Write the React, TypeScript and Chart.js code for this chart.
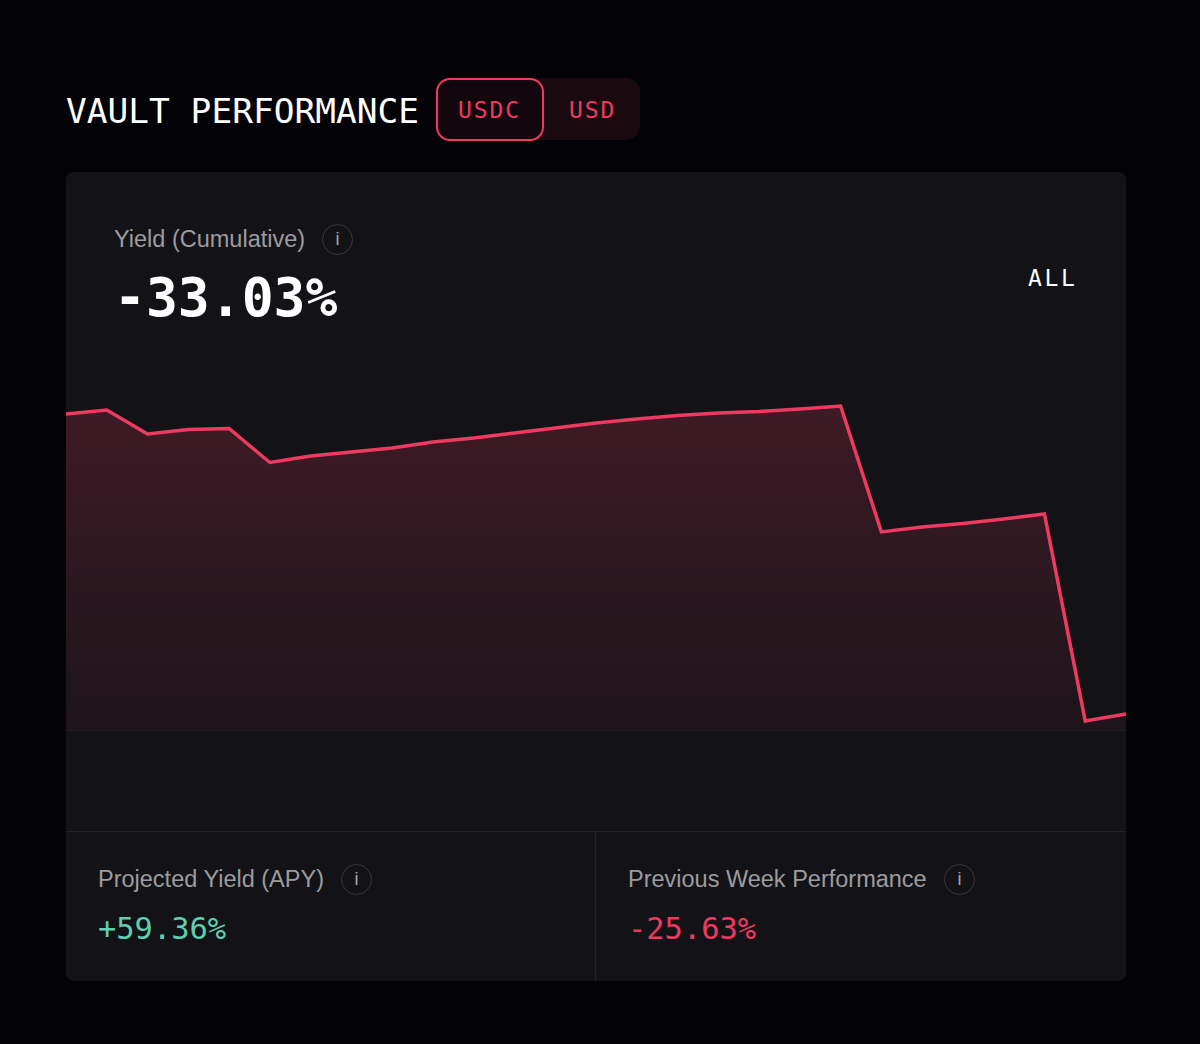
import React, { useEffect, useRef } from "react";
import { Chart, registerables } from "chart.js";

Chart.register(...registerables);

const labels = ["1","2","3","4","5","6","7","8","9","10","11","12","13","14","15","16","17","18","19","20","21","22","23","24","25","26","27"];
const yieldValues = [5.37,5.88,2.81,3.39,3.51,-0.84,-0.01,0.51,1.02,1.79,2.30,2.94,3.58,4.22,4.73,5.18,5.50,5.69,6.01,6.39,-9.73,-9.09,-8.65,-8.07,-7.43,-33.93,-33.03];
const baselineValue = -35.08;
const axisMin = -47.88;
const axisMax = 14.84;

const PINK = "#ee3a60";
const MONO = '"DejaVu Sans Mono", monospace';
const SANS = '"Liberation Sans", Arial, sans-serif';

const abs = (s: React.CSSProperties): React.CSSProperties => ({ position: "absolute", whiteSpace: "nowrap", lineHeight: 1, ...s });

function Info({ x, y }: { x: number; y: number }) {
  return (
    <div style={abs({ left: x - 15, top: y - 15, width: 29, height: 29, border: "1.5px solid #38383c", borderRadius: "50%", color: "#a8a8aa", fontFamily: SANS, fontSize: 18, textAlign: "center", lineHeight: "28px" })}>i</div>
  );
}

export default function App() {
  const ref = useRef<HTMLCanvasElement | null>(null);
  useEffect(() => {
    const chart = new Chart(ref.current!, {
      type: "line",
      data: {
        labels,
        datasets: [{
          data: yieldValues,
          borderColor: PINK,
          borderWidth: 3.5,
          pointRadius: 0,
          tension: 0,
          borderJoinStyle: "miter",
          fill: { value: baselineValue },
          backgroundColor: (c: any) => {
            const area = c.chart.chartArea;
            if (!area) return "transparent";
            const g = c.chart.ctx.createLinearGradient(0, 66, 0, 390);
            g.addColorStop(0, "rgba(238,58,96,0.2)");
            g.addColorStop(1, "rgba(238,58,96,0.05)");
            return g;
          },
        }],
      },
      options: {
        animation: false,
        responsive: false,
        maintainAspectRatio: false,
        layout: { padding: 0 },
        plugins: { legend: { display: false }, tooltip: { enabled: false } },
        scales: {
          x: { display: false, offset: false },
          y: {
            min: axisMin,
            max: axisMax,
            afterBuildTicks: (axis: any) => { axis.ticks = [{ value: baselineValue }]; },
            ticks: { display: false },
            border: { display: false },
            grid: { color: "#1d1d21", lineWidth: 1, drawTicks: false },
            afterFit: (axis: any) => { axis.width = 0; },
          },
        },
      },
    });
    return () => chart.destroy();
  }, []);

  return (
    <div style={{ position: "fixed", inset: 0, background: "#020207", overflow: "hidden" }}>
      <div style={abs({ left: 66, top: 94, fontFamily: MONO, fontSize: 34.5, color: "#ffffff" })}>VAULT PERFORMANCE</div>

      <div style={abs({ left: 436, top: 78, width: 204, height: 62, background: "#1a0a10", borderRadius: 14 })} />
      <div style={abs({ left: 436, top: 78, width: 104, height: 59, border: "2px solid #ee3a60", borderRadius: 14, background: "#12070c" })} />
      <div style={abs({ left: 458, top: 99, fontFamily: MONO, fontSize: 23, letterSpacing: 1.9, color: PINK })}>USDC</div>
      <div style={abs({ left: 569, top: 99, fontFamily: MONO, fontSize: 23, letterSpacing: 1.9, color: PINK })}>USD</div>

      <div style={abs({ left: 66, top: 172, width: 1060, height: 809, background: "#131317", borderRadius: 8 })} />

      <div style={abs({ left: 114, top: 228, fontFamily: SANS, fontSize: 23.5, color: "#9c9c9f" })}>Yield (Cumulative)</div>
      <Info x={337} y={239} />
      <div style={abs({ left: 114, top: 271, fontFamily: MONO, fontSize: 53, fontWeight: 700, color: "#ffffff" })}>-33.03%</div>
      <div style={abs({ left: 1028, top: 267, fontFamily: MONO, fontSize: 23, letterSpacing: 2.6, color: "#ffffff" })}>ALL</div>

      <canvas ref={ref} width={1060} height={490} style={{ position: "absolute", left: 66, top: 340, width: 1060, height: 490, display: "block" }} />

      <div style={abs({ left: 66, top: 831, width: 1060, height: 1, background: "#232327" })} />
      <div style={abs({ left: 595, top: 831, width: 1, height: 150, background: "#232327" })} />

      <div style={abs({ left: 98, top: 868, fontFamily: SANS, fontSize: 23.5, color: "#9c9c9f" })}>Projected Yield (APY)</div>
      <Info x={356} y={879} />
      <div style={abs({ left: 98, top: 914, fontFamily: MONO, fontSize: 30.4, color: "#5fcfb0" })}>+59.36%</div>

      <div style={abs({ left: 628, top: 868, fontFamily: SANS, fontSize: 23.5, color: "#9c9c9f" })}>Previous Week Performance</div>
      <Info x={959} y={879} />
      <div style={abs({ left: 628, top: 914, fontFamily: MONO, fontSize: 30.4, color: PINK })}>-25.63%</div>
    </div>
  );
}
